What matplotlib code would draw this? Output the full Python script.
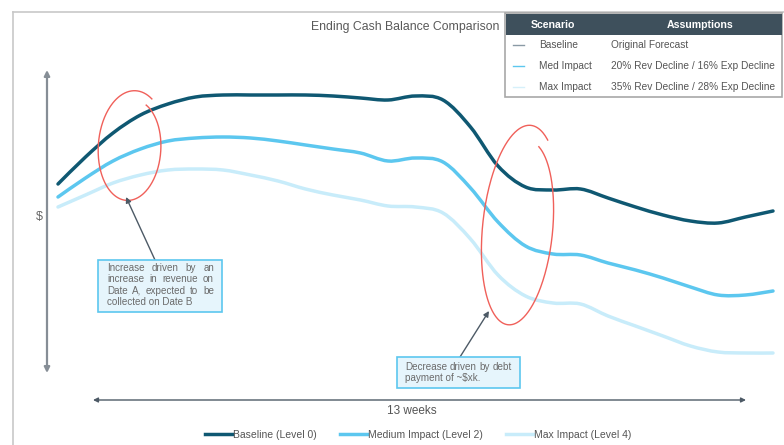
import numpy as np
import matplotlib
matplotlib.use("Agg")
import matplotlib.pyplot as plt
from matplotlib.patches import Rectangle, PathPatch
from matplotlib.path import Path
from matplotlib.lines import Line2D

plt.rcParams['font.family'] = ['Liberation Sans', 'DejaVu Sans']

# half-week steps over the 13 week horizon
weeks = np.arange(27) * 0.5

baseline = [261, 288, 312, 330, 341, 348, 350, 350, 350, 350, 349, 347, 345,
            349, 345, 318, 279, 258, 255, 256, 247, 238, 230, 224, 222, 228, 234]
medium = [248, 267, 284, 296, 304, 307, 308, 307, 304, 300, 296, 292, 284,
          287, 283, 257, 223, 199, 191, 190, 182, 175, 167, 158, 150, 150, 154]
maximum = [238, 250, 262, 270, 275, 276, 275, 270, 264, 256, 250, 245, 239,
           238, 232, 206, 170, 149, 142, 141, 129, 119, 109, 99, 93, 92, 92]

series_labels = ["Baseline (Level 0)", "Medium Impact (Level 2)", "Max Impact (Level 4)"]
colors = ["#0f5872", "#5cc7ef", "#c8ecfa"]

scenarios = ["Baseline", "Med Impact", "Max Impact"]
assumptions = ["Original Forecast", "20% Rev Decline / 16% Exp Decline",
               "35% Rev Decline / 28% Exp Decline"]

title = "Ending Cash Balance Comparison"
note_up = ["Increase driven by an", "increase in revenue on",
           "Date A, expected to be", "collected on Date B"]
note_down = ["Decrease driven by debt", "payment of ~$xk."]

W, H = 784, 445
fig = plt.figure(figsize=(W / 100, H / 100), dpi=100)

# main data axes: week 0 sits at px 58, 55 px per week
ax = fig.add_axes([0, 0, 1, 1])
ax.set_xlim(-58 / 55, (W - 58) / 55)
ax.set_ylim(0, H)
ax.axis('off')


def smooth_path(x, y):
    # catmull-rom through the points, drawn as cubic bezier segments
    p = np.column_stack([x, y]).astype(float)
    p = np.vstack([p[0], p, p[-1]])
    verts = [p[1]]
    codes = [Path.MOVETO]
    for i in range(1, len(p) - 2):
        c1 = p[i] + (p[i + 1] - p[i - 1]) / 6
        c2 = p[i + 1] - (p[i + 2] - p[i]) / 6
        verts += [c1, c2, p[i + 1]]
        codes += [Path.CURVE4] * 3
    return Path(verts, codes)


handles = []
for vals, c, lab in zip([baseline, medium, maximum], colors, series_labels):
    ax.add_patch(PathPatch(smooth_path(weeks, vals), facecolor='none', edgecolor=c,
                           lw=2.5, capstyle='round', zorder=3))
    handles.append(Line2D([], [], color=c, lw=2.5, label=lab))

leg = ax.legend(handles=handles, loc='center', bbox_to_anchor=(418 / W, 10 / H),
                ncol=3, frameon=False, fontsize=7.5, handlelength=2.6,
                handletextpad=0.1, columnspacing=2.2, labelcolor='#555555')

# overlay in pixel coordinates for the decorations
ov = fig.add_axes([0, 0, 1, 1], facecolor='none')
ov.set_xlim(0, W)
ov.set_ylim(H, 0)
ov.axis('off')

# outer frame
ov.plot([13, 13], [H, 12], color='#c8c8c8', lw=1.2)
ov.plot([13, W], [12, 12], color='#c8c8c8', lw=1.2)

ov.text(405, 27, title, ha='center', va='center', fontsize=8.8, color='#595959')

# axis arrows
ov.annotate('', xy=(47, 70), xytext=(47, 373),
            arrowprops=dict(arrowstyle='<|-|>', color='#868e96', lw=1.6,
                            mutation_scale=8, shrinkA=0, shrinkB=0))
ov.text(39, 217, '$', ha='center', va='center', fontsize=9, color='#666666')
ov.annotate('', xy=(93, 400), xytext=(746, 400),
            arrowprops=dict(arrowstyle='<|-|>', color='#4d5a66', lw=1.0,
                            mutation_scale=7, shrinkA=0, shrinkB=0))
ov.text(412, 411, '13 weeks', ha='center', va='center', fontsize=8.5, color='#555555')

# scenario table
ov.add_patch(Rectangle((505, 13), 277, 84, facecolor='white', edgecolor='#a8a8a8', lw=1.2, zorder=4))
ov.add_patch(Rectangle((506, 14), 276, 21, facecolor='#3e505c', edgecolor='none', zorder=5))
ov.text(553, 25, 'Scenario', ha='center', va='center', fontsize=7.6,
        fontweight='bold', color='white', zorder=6)
ov.text(700, 25, 'Assumptions', ha='center', va='center', fontsize=7.6,
        fontweight='bold', color='white', zorder=6)
marker_cols = ['#8a9aa5', '#5cc7ef', '#d6f0fa']
for i, (s, a) in enumerate(zip(scenarios, assumptions)):
    y = 45 + 21 * i
    ov.plot([513, 524], [y, y], color=marker_cols[i], lw=1, zorder=6)
    ov.text(539, y, s, ha='left', va='center', fontsize=7.3, color='#555555', zorder=6)
    ov.text(611, y, a, ha='left', va='center', fontsize=7.3, color='#555555', zorder=6)


def scribble(cx, cy, rx, ry, tilt, a0, a1, k0, k1):
    # hand drawn looking loop, slightly spiralling outwards
    t = np.radians(np.linspace(a0, a1, 300))
    k = np.linspace(k0, k1, 300)
    ex = rx * k * np.cos(t)
    ey = ry * k * np.sin(t)
    r = np.radians(tilt)
    x = cx + ex * np.cos(r) - ey * np.sin(r)
    y = cy - (ex * np.sin(r) + ey * np.cos(r))
    ov.plot(x, y, color='#f0605a', lw=1.0, zorder=7)


scribble(131, 148, 31, 52, -4, 65, -300, 0.93, 1.12)
scribble(519, 229, 35, 96, -6, 70, -300, 0.93, 1.1)


def justified(lines, x0, x1, y0, dy, size=7.1):
    fig.canvas.draw()
    rend = fig.canvas.get_renderer()
    for j, line in enumerate(lines):
        y = y0 + dy * j
        words = line.split()
        last = j == len(lines) - 1
        if last or len(words) == 1:
            ov.text(x0, y, line, ha='left', va='center', fontsize=size, color='#6b6b6b', zorder=9)
            continue
        texts = [ov.text(0, y, w, ha='left', va='center', fontsize=size,
                         color='#6b6b6b', zorder=9) for w in words]
        widths = [t.get_window_extent(rend).width for t in texts]
        gap = (x1 - x0 - sum(widths)) / (len(words) - 1)
        x = x0
        for t, w in zip(texts, widths):
            t.set_x(x)
            x += w + gap


# annotation boxes
ov.annotate('', xy=(126, 197), xytext=(155, 260),
            arrowprops=dict(arrowstyle='-|>', color='#4d5a66', lw=1.0,
                            mutation_scale=8, shrinkA=0, shrinkB=0), zorder=8)
ov.add_patch(Rectangle((98, 260), 124, 52, facecolor='#e6f5fc', edgecolor='#5cc7ef', lw=1.2, zorder=8))
justified(note_up, 107, 214, 268, 11.3)

ov.annotate('', xy=(489, 311), xytext=(460, 357),
            arrowprops=dict(arrowstyle='-|>', color='#4d5a66', lw=1.0,
                            mutation_scale=8, shrinkA=0, shrinkB=0), zorder=8)
ov.add_patch(Rectangle((397, 357), 123, 31, facecolor='#e6f5fc', edgecolor='#5cc7ef', lw=1.2, zorder=8))
justified(note_down, 405, 512, 367, 11.3)

fig.savefig('out.png', dpi=100)
